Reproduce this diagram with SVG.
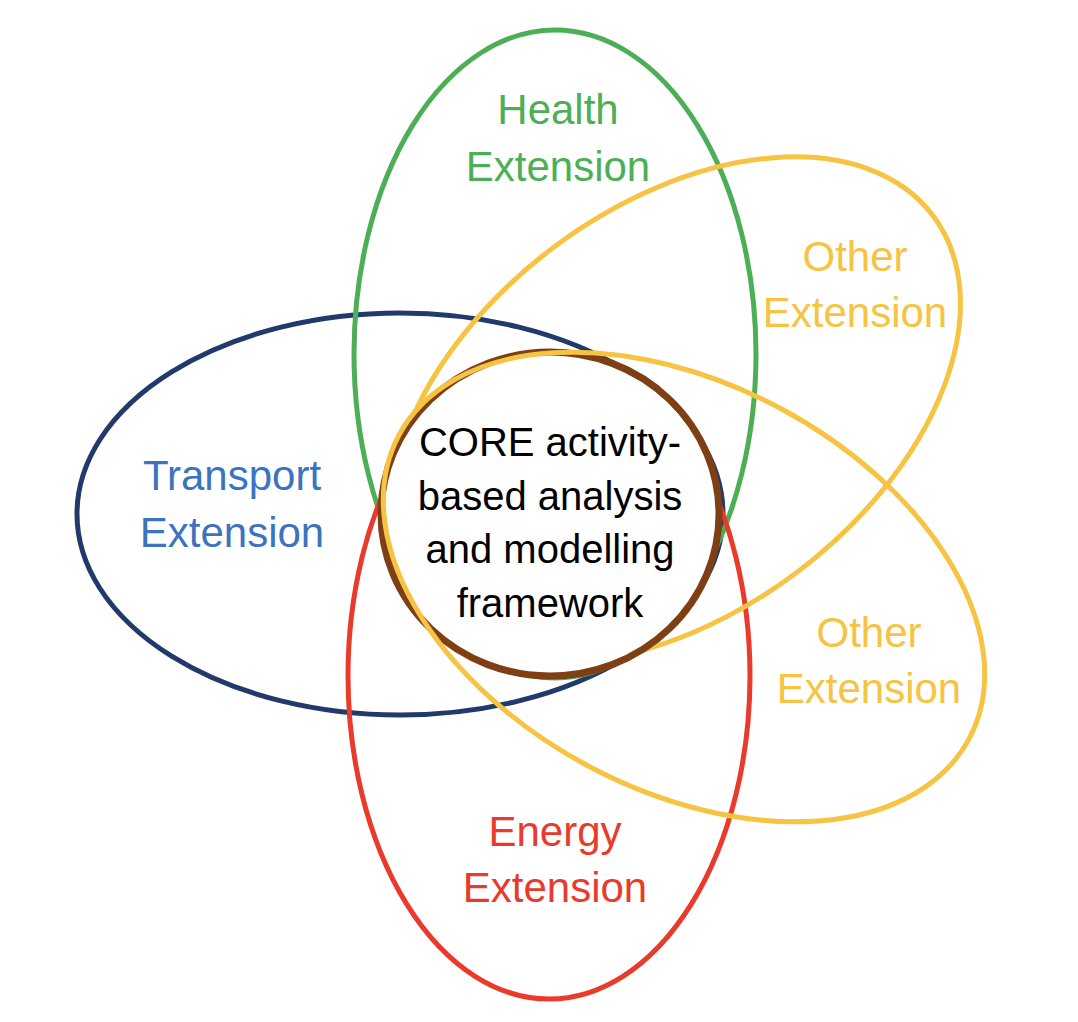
<svg xmlns="http://www.w3.org/2000/svg" width="1078" height="1022" viewBox="0 0 1078 1022">
<style>
.ring{fill:none;stroke-width:5}
.lbl{font-family:"Liberation Sans",Arial,sans-serif;font-size:42px;text-anchor:middle}
.coretxt{font-family:"Liberation Sans",Arial,sans-serif;font-size:40px;text-anchor:middle;fill:#000}
</style>
<rect width="1078" height="1022" fill="#fff"/>
<g id="transport">
<ellipse class="ring" cx="400" cy="514" rx="323" ry="201" stroke="#223A6B"/>
<text class="lbl" fill="#3C73BF" x="232" y="490">Transport</text>
<text class="lbl" fill="#3C73BF" x="232" y="547">Extension</text>
</g>
<g id="health">
<ellipse class="ring" cx="555" cy="354" rx="201" ry="324" stroke="#4DAF55"/>
<text class="lbl" fill="#4DAF55" x="558" y="124">Health</text>
<text class="lbl" fill="#4DAF55" x="558" y="181">Extension</text>
</g>
<g id="energy">
<ellipse class="ring" cx="549" cy="676" rx="201" ry="323" stroke="#E93A2B"/>
<text class="lbl" fill="#E93A2B" x="555" y="846">Energy</text>
<text class="lbl" fill="#E93A2B" x="555" y="902">Extension</text>
</g>
<g id="other-upper">
<ellipse class="ring" cx="675" cy="410" rx="323" ry="203" stroke="#F6C343" transform="rotate(-37 675 410)"/>
<text class="lbl" fill="#F6C343" x="855" y="271">Other</text>
<text class="lbl" fill="#F6C343" x="855" y="327">Extension</text>
</g>
<g id="core">
<ellipse cx="550" cy="514" rx="169" ry="162" fill="#fff" stroke="#7E3F15" stroke-width="7"/>
<text class="coretxt" x="550" y="456">CORE activity-</text>
<text class="coretxt" x="550" y="510">based analysis</text>
<text class="coretxt" x="550" y="563">and modelling</text>
<text class="coretxt" x="550" y="617">framework</text>
</g>
<g id="other-lower">
<ellipse class="ring" cx="684" cy="587" rx="323" ry="203" stroke="#F6C343" transform="rotate(28 684 587)"/>
<text class="lbl" fill="#F6C343" x="869" y="647">Other</text>
<text class="lbl" fill="#F6C343" x="869" y="703">Extension</text>
</g>
<g id="connectors"></g>
</svg>
